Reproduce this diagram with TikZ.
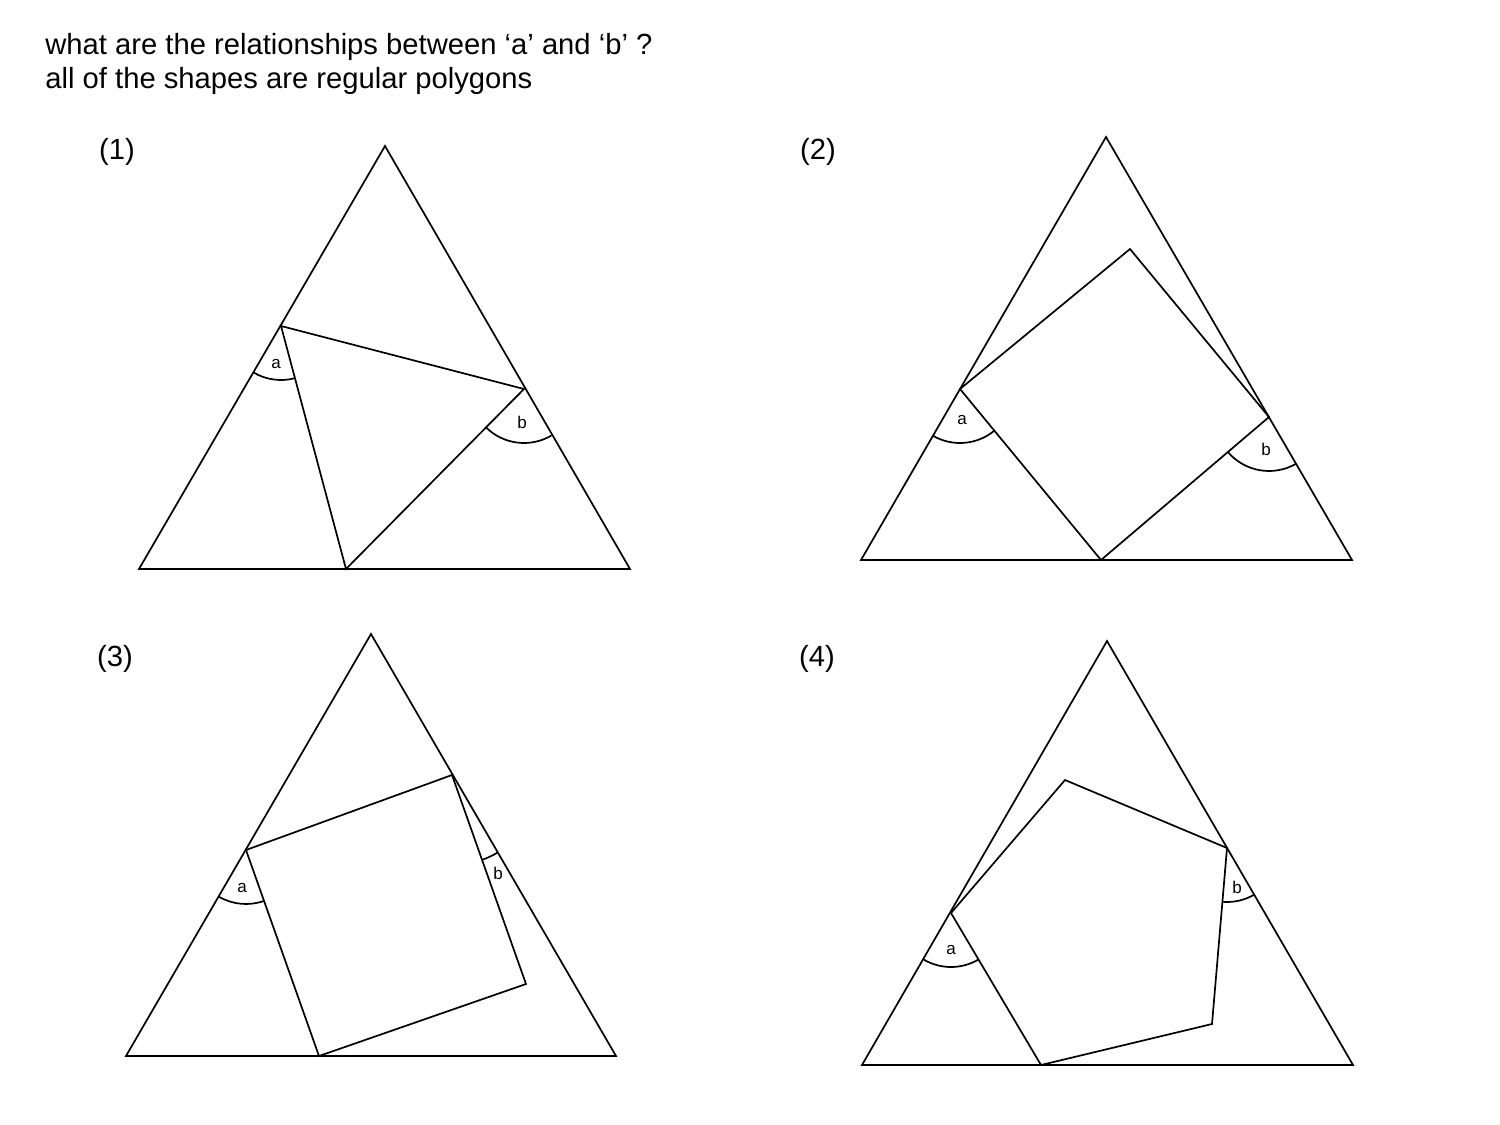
\documentclass[tikz,border=0pt]{standalone}
\usepackage{fontspec}
\setmainfont{Liberation Sans}
\usetikzlibrary{angles}
\begin{document}
\begin{tikzpicture}[x=0.5pt,y=-0.5pt,
  poly/.style={draw=black,line width=0.85pt,line join=miter},
  ang/.style={draw=black,line width=0.85pt,angle radius=27pt},
  title/.style={font=\fontsize{14.6pt}{17pt}\selectfont,anchor=base west,inner sep=0pt},
  num/.style={font=\fontsize{14.6pt}{17pt}\selectfont,inner sep=0pt},
  lab/.style={font=\fontsize{8.5pt}{10pt}\selectfont,inner sep=0pt}]
\useasboundingbox (0,0) rectangle (1500,1125);
\fill[white] (0,0) rectangle (1500,1125);

\node[title] (t1) at (45,54) {what are the relationships between ‘a’ and ‘b’ ?};
\node[title] (t2) at (45,88) {all of the shapes are regular polygons};

% Panel 1
\node[num] (n1) at (117,152) {(1)};
\coordinate (A1) at (139,569); \coordinate (B1) at (630,569); \coordinate (C1) at (385,146);
\coordinate (P1) at (281,326); \coordinate (Q1) at (524,389); \coordinate (R1) at (346,569);
\draw[poly] (A1) -- (B1) -- (C1) -- cycle;
\draw[poly] (P1) -- (Q1) -- (R1) -- cycle;
\pic[ang] {angle = A1--P1--R1};
\pic[ang] {angle = R1--Q1--B1};
\node[lab] (a1) at (276,364) {a};
\node[lab] (b1) at (522,422) {b};

% Panel 2
\node[num] (n2) at (818,152) {(2)};
\coordinate (A2) at (861,560); \coordinate (B2) at (1352,560); \coordinate (C2) at (1106,137);
\coordinate (P2) at (960,389); \coordinate (Q2) at (1130,249); \coordinate (R2) at (1269,417); \coordinate (S2) at (1101,560);
\draw[poly] (A2) -- (B2) -- (C2) -- cycle;
\draw[poly] (P2) -- (Q2) -- (R2) -- (S2) -- cycle;
\pic[ang] {angle = A2--P2--S2};
\pic[ang] {angle = S2--R2--B2};
\node[lab] (a2) at (962,420) {a};
\node[lab] (b2) at (1266,449) {b};

% Panel 3
\node[num] (n3) at (115,659) {(3)};
\coordinate (A3) at (126,1056); \coordinate (B3) at (616,1056); \coordinate (C3) at (371,634);
\coordinate (P3) at (246,850); \coordinate (Q3) at (452,775); \coordinate (R3) at (526,984); \coordinate (S3) at (319,1056);
\draw[poly] (A3) -- (B3) -- (C3) -- cycle;
\draw[poly] (P3) -- (Q3) -- (R3) -- (S3) -- cycle;
\pic[ang] {angle = A3--P3--S3};
\pic[ang,angle radius=45pt] {angle = R3--Q3--B3};
\node[lab] (a3) at (242,888) {a};
\node[lab] (b3) at (498,873) {b};

% Panel 4
\node[num] (n4) at (817,659) {(4)};
\coordinate (A4) at (862,1065); \coordinate (B4) at (1353,1065); \coordinate (C4) at (1107,641);
\coordinate (P4) at (951,913); \coordinate (Q4) at (1065,780); \coordinate (R4) at (1227,848); \coordinate (S4) at (1212,1024); \coordinate (T4) at (1041,1065);
\draw[poly] (A4) -- (B4) -- (C4) -- cycle;
\draw[poly] (P4) -- (Q4) -- (R4) -- (S4) -- (T4) -- cycle;
\pic[ang] {angle = A4--P4--T4};
\pic[ang] {angle = S4--R4--B4};
\node[lab] (a4) at (951,950) {a};
\node[lab] (b4) at (1237,887) {b};
\end{tikzpicture}
\end{document}
